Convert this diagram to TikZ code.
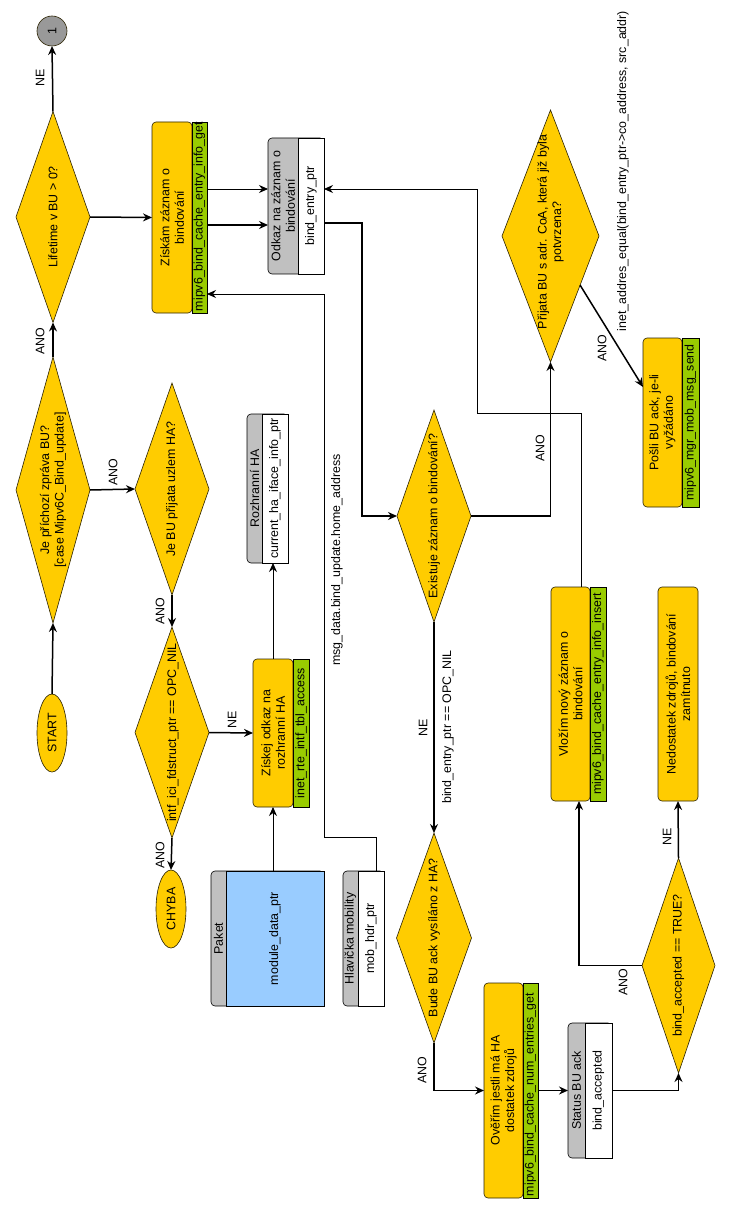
\documentclass[tikz,border=0pt]{standalone}
\usepackage{fontspec}
\setmainfont{Liberation Sans}
\usetikzlibrary{shapes.geometric,arrows.meta,calc}
\definecolor{yel}{HTML}{FFCC00}
\definecolor{grn}{HTML}{99CC00}
\definecolor{gry}{HTML}{C0C0C0}
\definecolor{cgr}{HTML}{999999}
\definecolor{blu}{HTML}{99CCFF}
\definecolor{edg}{HTML}{2B2200}
\begin{document}
\begin{tikzpicture}[x=1pt,y=-1pt,
  font=\fontsize{12.4}{14.5}\selectfont,
  every node/.style={inner sep=0pt, outer sep=0pt},
  dia/.style={diamond, draw=edg, fill=yel, line width=0.6pt},
  ell/.style={ellipse, draw=edg, fill=yel, line width=0.6pt},
  ybox/.style={rectangle, rounded corners=4pt, draw=edg, fill=yel, line width=0.6pt},
  gbox/.style={rectangle, draw=black, fill=grn, line width=0.6pt},
  graybox/.style={rectangle, rounded corners=4pt, draw=black, fill=gry, line width=0.6pt},
  wbox/.style={rectangle, draw=black, fill=white, line width=0.6pt},
  bbox/.style={rectangle, draw=black, fill=blu, line width=0.6pt},
  txt/.style={rotate=90, align=center},
  flow/.style={line width=1.5pt, -{Stealth[length=9pt,width=8pt,inset=3pt]}},
  thinflow/.style={line width=0.8pt, -{Stealth[length=9pt,width=8pt,inset=3pt]}},
]
\useasboundingbox (0,0) rectangle (731,1214);

% ---- terminals and connector ----
\node[circle, draw=edg, fill=cgr, minimum size=30, line width=0.6pt] (c1) at (52,31) {};
\node[txt] (c1t) at (c1) {1};
\node[ell, minimum width=30, minimum height=78] (start) at (52,733) {};
\node[txt] (startt) at (start) {START};
\node[ell, minimum width=30, minimum height=78] (chyba) at (171,909) {};
\node[txt] (chybat) at (chyba) {CHYBA};

% ---- decisions ----
\node[dia, minimum width=74, minimum height=211] (lif) at (53,217) {};
\node[txt] (lift) at (lif) {Lifetime v BU > 0?};
\node[dia, minimum width=74, minimum height=266] (jep) at (53,490) {};
\node[txt] (jept) at (jep) {Je příchozí zpráva BU?\\{[}case Mipv6C\_Bind\_update{]}};
\node[dia, minimum width=74, minimum height=212] (jbu) at (172,489) {};
\node[txt] (jbut) at (jbu) {Je BU přijata uzlem HA?};
\node[dia, minimum width=74, minimum height=211] (intf) at (172,732.5) {};
\node[txt] (intft) at (173,732.5) {intf\_ici\_fdstruct\_ptr == OPC\_NIL};
\node[dia, minimum width=74, minimum height=212] (exi) at (434,516) {};
\node[txt] (exit) at (exi) {Existuje záznam o bindování?};
\node[dia, minimum width=97, minimum height=252] (pri) at (550.5,236) {};
\node[txt] (prit) at (550.5,232) {Přijata BU s adr. CoA, která již byla\\potvrzena?};
\node[dia, minimum width=75, minimum height=210] (bud) at (434,938) {};
\node[txt] (budt) at (bud) {Bude BU ack vysíláno z HA?};
\node[dia, minimum width=73, minimum height=215] (acc) at (678.5,965.5) {};
\node[txt] (acct) at (acc) {bind\_accepted == TRUE?};

% ---- process boxes ----
\node[ybox, minimum width=40, minimum height=191] (zis) at (172,217.5) {};
\node[gbox, minimum width=15, minimum height=191] (zisg) at (199.5,217.5) {};
\node[txt] (zist) at (zis) {Získám záznam o\\bindování};
\begin{scope}
\clip (zisg.south west) rectangle (zisg.north east);
\node[txt, anchor=west] (zisgt) at ([yshift=2pt]zisg.south) {mipv6\_bind\_cache\_entry\_info\_get};
\end{scope}

\node[ybox, minimum width=40, minimum height=148] (zj) at (273,733) {};
\node[gbox, minimum width=16, minimum height=148] (zjg) at (301,733) {};
\node[txt] (zjt) at (zj) {Získej odkaz na\\rozhranní HA};
\node[txt] (zjgt) at (zjg) {inet\_rte\_intf\_tbl\_access};

\node[ybox, minimum width=39, minimum height=169] (pos) at (662.5,422.5) {};
\node[gbox, minimum width=17, minimum height=169] (posg) at (690.5,422.5) {};
\node[txt] (post) at (pos) {Pošli BU ack, je-li\\vyžádáno};
\node[txt] (posgt) at (posg) {mipv6\_mgr\_mob\_msg\_send};

\node[ybox, minimum width=39, minimum height=214] (vlo) at (570.5,694) {};
\node[gbox, minimum width=16, minimum height=214] (vlog) at (598,694) {};
\node[txt] (vlot) at (vlo) {Vložím nový záznam o\\bindování};
\node[txt] (vlogt) at (vlog) {mipv6\_bind\_cache\_entry\_info\_insert};

\node[ybox, minimum width=40, minimum height=214] (ned) at (678,694) {};
\node[txt] (nedt) at (ned) {Nedostatek zdrojů, bindování\\zamítnuto};

\node[ybox, minimum width=39, minimum height=215] (ove) at (503.5,1090.5) {};
\node[gbox, minimum width=15, minimum height=215] (oveg) at (530.5,1090.5) {};
\node[txt] (ovet) at (ove) {Ověřím jestli má HA\\dostatek zdrojů};
\begin{scope}
\clip (oveg.south west) rectangle (oveg.north east);
\node[txt, anchor=west] (ovegt) at ([yshift=2pt]oveg.south) {mipv6\_bind\_cache\_num\_entries\_get};
\end{scope}

% ---- data boxes ----
\node[graybox, minimum width=56, minimum height=136] (odk) at (296,206) {};
\node[wbox, minimum width=26, minimum height=136] (odkw) at (311,206) {};
\node[txt] (odkt) at (283,206) {Odkaz na záznam o\\bindování};
\node[txt] (odkwt) at (odkw) {bind\_entry\_ptr};

\node[graybox, minimum width=41, minimum height=149] (roz) at (267.5,488.5) {};
\node[wbox, minimum width=26, minimum height=149] (rozw) at (275,488.5) {};
\node[txt] (rozt) at (254.5,488.5) {Rozhranní HA};
\node[txt] (rozwt) at (rozw) {current\_ha\_iface\_info\_ptr};

\node[graybox, minimum width=113, minimum height=135] (pak) at (267.5,938.5) {};
\node[bbox, minimum width=98, minimum height=135] (pakb) at (275,938.5) {};
\node[txt] (pakt) at (218.5,938.5) {Paket};
\node[txt] (pakbt) at (pakb) {module\_data\_ptr};

\node[graybox, minimum width=41, minimum height=135] (hla) at (363.5,938.5) {};
\node[wbox, minimum width=26, minimum height=135] (hlaw) at (371,938.5) {};
\node[txt] (hlat) at (350.5,938.5) {Hlavička mobility};
\node[txt] (hlawt) at (hlaw) {mob\_hdr\_ptr};

\node[graybox, minimum width=44, minimum height=135] (sta) at (590,1090.5) {};
\node[wbox, minimum width=27, minimum height=135] (staw) at (598.5,1090.5) {};
\node[txt] (stat) at (576.5,1090.5) {Status BU ack};
\node[txt] (stawt) at (staw) {bind\_accepted};

% ---- connectors ----
\draw[flow] (lif.north) -- (c1.south);
\draw[flow] (jep.north) -- (lif.south);
\draw[flow] (start.north) -- (jep.south);
\draw[flow] (jep.east) -- (jbu.west);
\draw[flow] (jbu.south) -- (intf.north);
\draw[flow] (intf.south) -- (chyba.north);
\draw[flow] (intf.east) -- (zj.west);
\draw[flow] (lif.east) -- (zis.west);
\draw[thinflow] (zj.north) -- (zj.north |- rozw.south);
\draw[thinflow] (zj.south |- pakb.north) -- (zj.south);
\draw[thinflow] ([xshift=5.5pt]hlaw.north) |- (324,837) |- (zisg.east |- 0,294);
\draw[thinflow] (zisg.east |- 0,189) -- (odk.west |- 0,189);
\draw[flow] (zisg.east |- 0,225) -- (odk.west |- 0,225);
\draw[flow] (odkw.east |- 0,223) -- (362,223) |- (exi.west);
\draw[thinflow] ([xshift=10.5pt]vlo.north) |- (477,413) |- (odkw.east |- 0,189);
\draw[flow] (exi.east) -| (pri.south);
\draw[flow] ($(pri.east)!0.39!(pri.south)$) -- (pos.west |- 0,387);
\draw[flow] (exi.south) -- (bud.north);
\draw[flow] (bud.south) |- (ove.west);
\draw[flow] (oveg.east) -- (sta.west);
\draw[flow] (staw.east) -| (acc.south);
\draw[flow] (acc.west) -| ([xshift=8.5pt]vlo.south);
\draw[flow] (acc.north) -- (ned.south);

% ---- connector labels ----
\node[txt] (l1) at (40,78) {NE};
\node[txt] (l2) at (40,341) {ANO};
\node[txt] (l3) at (113,472) {ANO};
\node[txt] (l4) at (160,611) {ANO};
\node[txt] (l5) at (160,855) {ANO};
\node[txt] (l6) at (232,720) {NE};
\node[txt] (l7) at (337,560) {msg\_data.bind\_update.home\_address};
\node[txt] (l8) at (540,448) {ANO};
\node[txt] (l9) at (602,348) {ANO};
\node[txt] (l10) at (623,171) {inet\_addres\_equal(bind\_entry\_ptr->co\_address, src\_addr)};
\node[txt] (l11) at (423,728) {NE};
\node[txt] (l12) at (448,727) {bind\_entry\_ptr == OPC\_NIL};
\node[txt] (l13) at (422,1070) {ANO};
\node[txt] (l14) at (623,982) {ANO};
\node[txt] (l15) at (667,837) {NE};
\end{tikzpicture}
\end{document}
